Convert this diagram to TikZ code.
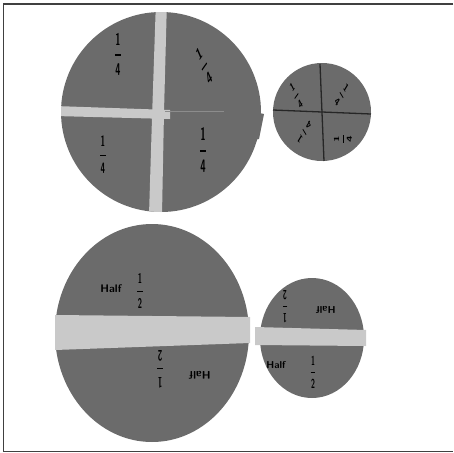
\documentclass[tikz,border=0pt]{standalone}
\newcommand{\hfr}[3]{\fontsize{#3}{#3}\selectfont\sffamily\bfseries\begin{tabular}{@{}c@{}}#1\\[-0.05em]\rule[0.35em]{0.65em}{0.09em}\\[-0.2em]#2\end{tabular}}
\begin{document}
\begin{tikzpicture}[x=1pt,y=-1pt,
  disk/.style={fill=black!58},
  gapc/.style={fill=black!21},
  cut/.style={draw=black!85,line width=1.3pt},
  hw/.style={text=black,inner sep=0pt,font=\sffamily\bfseries},
  frame/.style={draw=black!75,line width=1.6pt}]
\useasboundingbox (0,0) rectangle (453,453);
% frame
\draw[frame] (453,4) -- (3.5,4) -- (3.5,451.5) -- (453,451.5);
% ---- top big circle (quarters)
\fill[disk] (161,112) circle (100);
\fill[disk] (250,111) -- (264,114) -- (259,139) -- (248,141) -- cycle;
\begin{scope}
  \clip (161,112) circle (100);
  \fill[gapc] (156,0) -- (167,0) -- (164,112) -- (162,215) -- (149,215) -- (152,118) -- cycle;
  \fill[gapc] (55,106) -- (170,110) -- (170,119) -- (55,116) -- cycle;
  \draw[black!45,line width=1pt] (165,111) -- (224,111);
\end{scope}
\node[hw,xscale=0.55] (q1) at (118,57) {\hfr{1}{4}{17}};
\node[hw,xscale=0.55,rotate=38] (q2) at (205,68) {\hfr{1}{4}{17}};
\node[hw,xscale=0.55] (q3) at (103,157) {\hfr{1}{4}{15}};
\node[hw,xscale=0.55] (q4) at (203,153) {\hfr{1}{4}{18}};
% ---- top small circle
\fill[disk] (322,112) circle (49);
\draw[cut] (273,110) -- (371,114);
\draw[cut] (320,64) -- (324,161);
\node[hw,xscale=0.6,rotate=40] (s1) at (297,97) {\hfr{1}{4}{12}};
\node[hw,xscale=0.6,rotate=-45] (s2) at (341,96) {\hfr{1}{4}{12}};
\node[hw,xscale=0.6,rotate=135] (s3) at (305,131) {\hfr{1}{4}{12}};
\node[hw,xscale=0.6,rotate=90] (s4) at (344,139) {\hfr{1}{4}{12}};
% ---- bottom big ellipse (halves)
\fill[disk] (152,333) ellipse [x radius=97, y radius=109];
\fill[gapc] (55,315) -- (250,317) -- (250,343) -- (55,350) -- cycle;
\node[hw,font=\sffamily\bfseries\fontsize{11}{11}\selectfont] (h1) at (111,289) {Half};
\node[hw,xscale=0.55] (f1) at (140,293) {\hfr{1}{2}{14}};
\node[hw,xscale=0.55,rotate=180] (f2) at (160,367) {\hfr{1}{2}{15}};
\node[hw,rotate=180,font=\sffamily\bfseries\fontsize{11}{11}\selectfont] (h2) at (200,375) {Half};
% ---- bottom small ellipse
\fill[disk] (312,338) ellipse [x radius=52, y radius=60];
\fill[gapc] (255,327) -- (366,330) -- (366,346) -- (255,345) -- cycle;
\node[hw,xscale=0.55,rotate=180] (f3) at (285,305) {\hfr{1}{2}{13}};
\node[hw,rotate=180,font=\sffamily\bfseries\fontsize{10}{10}\selectfont] (h3) at (326,310) {Half};
\node[hw,font=\sffamily\bfseries\fontsize{10}{10}\selectfont] (h4) at (276,365) {Half};
\node[hw,xscale=0.55] (f4) at (313,374) {\hfr{1}{2}{13}};
\end{tikzpicture}
\end{document}
